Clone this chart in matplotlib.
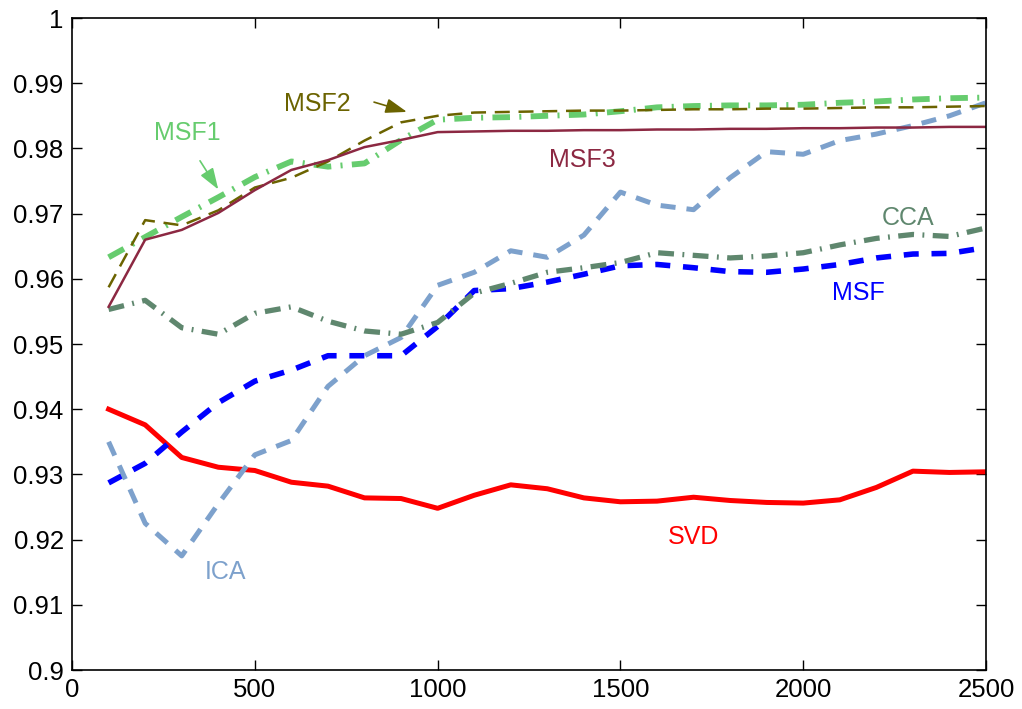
import matplotlib

matplotlib.use("Agg")
import matplotlib.pyplot as plt
import numpy as np

# number of training samples
n_train = np.arange(100, 2600, 100)

svd = [0.9400, 0.9376, 0.9326, 0.9311, 0.9306, 0.9288, 0.9282, 0.9264, 0.9263, 0.9248,
       0.9268, 0.9284, 0.9278, 0.9264, 0.9258, 0.9259, 0.9265, 0.9260, 0.9257, 0.9256,
       0.9261, 0.9280, 0.9305, 0.9303, 0.9304]
msf = [0.9287, 0.9317, 0.9365, 0.9410, 0.9443, 0.9460, 0.9482, 0.9482, 0.9482, 0.9527,
       0.9582, 0.9585, 0.9595, 0.9607, 0.9620, 0.9622, 0.9617, 0.9611, 0.9610, 0.9615,
       0.9622, 0.9632, 0.9638, 0.9639, 0.9648]
ica = [0.9350, 0.9225, 0.9175, 0.9255, 0.9330, 0.9352, 0.9435, 0.9482, 0.9510, 0.9590,
       0.9610, 0.9643, 0.9633, 0.9667, 0.9733, 0.9713, 0.9706, 0.9755, 0.9795, 0.9791,
       0.9812, 0.9822, 0.9835, 0.9850, 0.9870]
cca = [0.9553, 0.9567, 0.9525, 0.9515, 0.9547, 0.9557, 0.9535, 0.9520, 0.9515, 0.9533,
       0.9578, 0.9593, 0.9610, 0.9617, 0.9625, 0.9640, 0.9636, 0.9632, 0.9635, 0.9640,
       0.9652, 0.9662, 0.9668, 0.9665, 0.9678]
msf1 = [0.9633, 0.9664, 0.9695, 0.9725, 0.9756, 0.9780, 0.9772, 0.9777, 0.9813, 0.9844,
        0.9847, 0.9848, 0.9850, 0.9852, 0.9857, 0.9863, 0.9865, 0.9866, 0.9866, 0.9867,
        0.9870, 0.9872, 0.9875, 0.9877, 0.9878]
msf2 = [0.9587, 0.9690, 0.9682, 0.9705, 0.9740, 0.9755, 0.9780, 0.9812, 0.9840, 0.9850,
        0.9855, 0.9856, 0.9857, 0.9858, 0.9858, 0.9859, 0.9860, 0.9860, 0.9861, 0.9861,
        0.9862, 0.9863, 0.9863, 0.9864, 0.9865]
msf3 = [0.9557, 0.9660, 0.9675, 0.9701, 0.9736, 0.9767, 0.9782, 0.9802, 0.9813, 0.9825,
        0.9826, 0.9827, 0.9827, 0.9828, 0.9828, 0.9829, 0.9829, 0.9830, 0.9830, 0.9831,
        0.9831, 0.9832, 0.9832, 0.9833, 0.9833]

C_SVD = "#ff0000"
C_MSF = "#0000ff"
C_ICA = "#7da1cc"
C_CCA = "#5f876e"
C_MSF1 = "#66cc6e"
C_MSF2 = "#6b6300"
C_MSF3 = "#8c2842"

plt.rcParams["font.family"] = ["Liberation Sans", "DejaVu Sans"]

fig = plt.figure(figsize=(10.22, 7.09), dpi=100)
ax = fig.add_axes([0.0705, 0.055, 0.8943, 0.9196])

ax.plot(n_train, svd, color=C_SVD, lw=3.6, solid_joinstyle="round")
ax.plot(n_train, msf, color=C_MSF, lw=4.0, ls=(0, (2.7, 2.3)))
ax.plot(n_train, ica, color=C_ICA, lw=3.6, ls=(0, (3.0, 2.2)))
ax.plot(n_train, cca, color=C_CCA, lw=3.8, ls=(0, (3.0, 1.6, 0.35, 1.6)))
ax.plot(n_train, msf1, color=C_MSF1, lw=4.2, ls=(0, (3.0, 1.6, 0.35, 1.6)))
ax.plot(n_train, msf2, color=C_MSF2, lw=1.8, ls=(0, (6.0, 3.5)))
ax.plot(n_train, msf3, color=C_MSF3, lw=1.8)

fs = 18
ax.text(315, 0.9824, "MSF1", color=C_MSF1, fontsize=fs, ha="center", va="center")
ax.text(670, 0.9868, "MSF2", color=C_MSF2, fontsize=fs, ha="center", va="center")
ax.text(1395, 0.9782, "MSF3", color=C_MSF3, fontsize=fs, ha="center", va="center")
ax.text(2287, 0.9693, "CCA", color=C_CCA, fontsize=fs, ha="center", va="center")
ax.text(2150, 0.9578, "MSF", color=C_MSF, fontsize=fs, ha="center", va="center")
ax.text(1701, 0.9204, "SVD", color=C_SVD, fontsize=fs, ha="center", va="center")
ax.text(421, 0.9150, "ICA", color=C_ICA, fontsize=fs, ha="center", va="center")

ax.annotate("", xy=(400, 0.9737), xytext=(350, 0.9781),
            arrowprops=dict(arrowstyle="-|>,head_length=1.3,head_width=0.45",
                            color=C_MSF1, lw=1.2, shrinkA=0, shrinkB=0))
ax.annotate("", xy=(916, 0.9856), xytext=(826, 0.9871),
            arrowprops=dict(arrowstyle="-|>,head_length=1.3,head_width=0.45",
                            color=C_MSF2, lw=1.2, shrinkA=0, shrinkB=0))

ax.set_xlim(0, 2500)
ax.set_ylim(0.9, 1.0)
ax.set_xticks(np.arange(0, 2501, 500))
ax.set_yticks(np.arange(0.9, 1.0001, 0.01))
ax.set_yticklabels(["0.9", "0.91", "0.92", "0.93", "0.94", "0.95", "0.96",
                    "0.97", "0.98", "0.99", "1"])
ax.tick_params(direction="in", length=7, width=1, labelsize=18.5,
               top=True, right=True, pad=6)
for s in ax.spines.values():
    s.set_linewidth(1.2)

fig.savefig("out.png", dpi=100)
